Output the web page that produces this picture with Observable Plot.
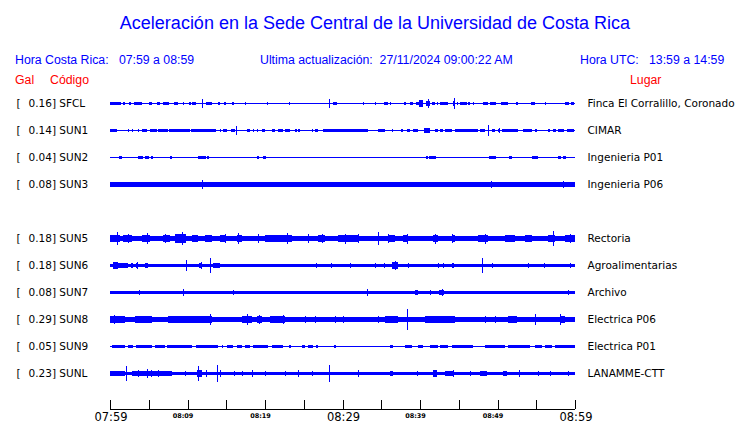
<!DOCTYPE html>
<html><head><meta charset="utf-8">
<script src="https://cdn.jsdelivr.net/npm/d3@7"></script>
<script src="https://cdn.jsdelivr.net/npm/@observablehq/plot@0.6"></script>
<style>
body{margin:0;background:#fff;}
#wrap{width:740px;height:423px;position:relative;overflow:hidden;background:#fff;}
#head{position:relative;width:740px;height:90px;font-family:"Liberation Sans",Arial,sans-serif;}
.t{position:absolute;white-space:pre;line-height:1;}
#traces svg,#axis svg{display:block;}
</style></head><body>
<div id="wrap">
<div id="head">
<div class="t" style="left:5px;width:740px;text-align:center;top:14px;font-size:18px;color:#0000ff">Aceleración en la Sede Central de la Universidad de Costa Rica</div>
<div class="t" style="left:15px;top:54px;font-size:12.3px;color:#0000ff">Hora Costa Rica:   07:59 a 08:59</div>
<div class="t" style="left:260px;top:54px;font-size:12.3px;color:#0000ff">Ultima actualización:  27/11/2024 09:00:22 AM</div>
<div class="t" style="left:580px;top:54px;font-size:12.3px;color:#0000ff">Hora UTC:   13:59 a 14:59</div>
<div class="t" style="left:15px;top:74px;font-size:12.3px;color:#ff0000">Gal</div>
<div class="t" style="left:50px;top:74px;font-size:12.3px;color:#ff0000">Código</div>
<div class="t" style="left:630px;top:74px;font-size:12.3px;color:#ff0000">Lugar</div>
</div>
<div id="traces"></div>
<div id="axis"></div>
</div>
<script>
// ---- data ----
const slots = ["SFCL","SUN1","SUN2","SUN3","","SUN5","SUN6","SUN7","SUN8","SUN9","SUNL"];
const stations = ["SFCL","SUN1","SUN2","SUN3","SUN5","SUN6","SUN7","SUN8","SUN9","SUNL"];
const peaks = ["0.16","0.14","0.04","0.08","0.18","0.18","0.08","0.29","0.05","0.23"];
const places = ["Finca El Corralillo, Coronado","CIMAR","Ingenieria P01","Ingenieria P06","Rectoria","Agroalimentarias","Archivo","Electrica P06","Electrica P01","LANAMME-CTT"];
const span = [0, 60]; // minutes after 07:59
const baseAmp = [0.0135,0.0135,0.0135,0.055,0.075,0.045,0.04,0.065,0.0135,0.045];

// bursts: [start min, end min, amplitude Gal]; spikes: [min, amplitude Gal]
const burstsSFCL = [[0,1.42,.045],[1.72,1.94,.03],[2.45,2.71,.04],[3.14,4.17,.045],[5.08,5.38,.04],[6.02,6.45,.045],[6.8,7.66,.045],[8.3,8.73,.04],[9.38,9.59,.03],[10.19,10.45,.03],[10.62,11.05,.04],[12.39,13.2,.05],[13.98,14.19,.03],[14.67,14.92,.03],[15.7,16.04,.04],[28.2,28.4,.05],[28.82,29.25,.04],[35.4,35.91,.04],[37.98,38.19,.03],[38.71,39.14,.04],[39.44,40.43,.05],[39.9,40.4,.09],[40.73,41.29,.08],[41.51,41.94,.04],[42.15,42.37,.03],[42.58,43.66,.045],[44.2,44.5,.08],[44.73,44.95,.03],[45.16,46.02,.045],[46.24,46.45,.03],[46.8,47.01,.03],[48.17,48.82,.045],[49.03,49.76,.04],[50.45,51.4,.045],[52.34,52.6,.03],[54.32,54.84,.04],[58.71,59.23,.04],[59.48,59.91,.04]];
const spikesSFCL = [[11.83,.11],[17.46,.03],[20.3,.03],[23.05,.03],[28.26,.12],[32.69,.03],[34.19,.03],[36.13,.03],[41.0,.11],[44.34,.16],[56.13,.03]];

const burstsSUN1 = [[0,0.86,.045],[4.09,4.73,.04],[5.16,6.02,.04],[6.24,7.44,.045],[7.61,10.32,.045],[10.45,13.63,.04],[14.62,15.05,.03],[15.61,16.13,.04],[17.63,18.06,.03],[18.92,19.14,.03],[19.57,20,.03],[20.86,21.29,.03],[21.72,22.37,.04],[22.58,23.23,.04],[23.87,24.09,.03],[24.3,24.52,.03],[26.02,26.24,.03],[26.45,26.88,.03],[27.53,29.46,.04],[29.46,30.32,.03],[30.32,33.33,.035],[34.62,35.48,.03],[36.34,36.56,.03],[37.55,37.76,.03],[38.28,38.71,.04],[39.14,39.78,.03],[40.56,41.29,.06],[41.94,42.37,.03],[42.58,43.01,.03],[43.23,44.09,.04],[44.52,47.53,.04],[47.74,48.39,.04],[49.25,49.68,.04],[50.02,50.32,.04],[50.54,52.69,.045],[53.33,54.41,.04],[54.84,55.05,.03],[56.47,56.77,.03],[57.2,57.51,.03],[57.85,58.62,.04],[58.92,59.91,.04]];
const spikesSUN1 = [[2.28,.03],[2.8,.03],[3.66,.03],[14.19,.03],[16.3,.11],[18.49,.03],[40.9,.07],[48.82,.15],[50.2,.06]];

const burstsSUN2 = [[1.16,1.5,.03],[1.85,2.15,.025],[3.66,4.3,.035],[4.52,5.03,.035],[5.29,5.59,.03],[5.72,5.89,.025],[7.74,7.96,.03],[8.17,8.3,.025],[9.33,9.51,.025],[9.68,9.76,.02],[10.32,10.54,.025],[10.67,10.75,.02],[11.4,12.34,.035],[12.47,12.77,.03],[13.12,13.33,.025],[18.92,19.23,.03],[19.78,20.09,.03],[40.73,40.99,.03],[41.16,42.02,.035],[44.52,44.73,.025],[45.03,45.29,.025],[48.9,49.76,.035],[50.97,51.18,.025],[51.48,51.83,.03],[54.49,55.27,.035],[57.85,58.19,.03],[58.49,58.8,.03]];
const spikesSUN2 = [[0.43,.02],[6.75,.02],[16.65,.02],[24.3,.025],[25.08,.02],[52.17,.02],[59.14,.02]];

const burstsSUN3 = [[1.1,1.5,.07],[48.9,49.9,.075],[54.8,55.2,.07],[57.4,59,.07]];
const spikesSUN3 = [[1.29,.08],[1.85,.06],[3.31,.06],[4.73,.065],[5.38,.07],[7.53,.065],[7.83,.06],[11.83,.11],[16.34,.06],[19.01,.065],[41.29,.07],[42.88,.06],[48.52,.07],[49.12,.1],[51.4,.065],[52.69,.06],[53.76,.06],[55.01,.075],[55.7,.06],[58.49,.1]];

const burstsSUN5 = [[0,1.29,.1],[1.72,2.8,.095],[4.09,5.16,.1],[6.88,7.74,.095],[8.39,9.68,.11],[10.54,11.4,.095],[12.26,13.12,.095],[14.19,14.84,.09],[16.34,16.99,.1],[20,23.44,.1],[26.88,27.74,.095],[29.46,32.04,.1],[35.91,36.77,.1],[37.85,38.49,.095],[41.72,42.37,.095],[44.09,44.52,.09],[47.53,48.82,.1],[50.97,52.26,.095],[53.55,54.41,.095],[56.56,57.42,.1],[58.71,60,.105]];
const spikesSUN5 = [[0.86,.18],[2.37,.12],[4.73,.145],[7.1,.11],[9.25,.18],[9.68,.13],[14.84,.12],[16.56,.145],[19.14,.12],[22.8,.16],[25.59,.11],[27.31,.11],[30.32,.135],[32.04,.13],[34.62,.18],[35.91,.11],[38.28,.135],[41.94,.135],[44.09,.12],[48.39,.135],[57.2,.2],[59.35,.11]];

const burstsSUN6 = [[0.43,1.08,.085],[1.08,2.37,.055],[2.71,3.01,.06],[3.31,3.66,.08],[4.52,4.86,.06],[11.48,11.91,.08],[13.33,14.19,.055],[36.34,37.2,.1],[44.09,44.43,.07]];
const spikesSUN6 = [[0.8,.1],[3.5,.09],[9.81,.15],[11.7,.1],[12.9,.19],[26.54,.07],[28.47,.06],[30.97,.055],[34.19,.055],[35.4,.055],[36.77,.13],[38.41,.055],[42.37,.055],[43.01,.055],[48.04,.19],[49.25,.055],[53.98,.055],[56.04,.055],[59.35,.06]];

const burstsSUN7 = [[11.8,12.3,.05],[14.5,14.9,.05],[20.8,21.1,.05],[32.5,34,.05],[39.4,39.8,.06],[42.5,43.1,.06],[53.3,53.9,.05]];
const spikesSUN7 = [[3.78,.06],[9.38,.09],[15.91,.055],[22.92,.05],[25.59,.05],[33.2,.09],[39.57,.075],[41.29,.055],[42.8,.09],[44.95,.05],[51.83,.05],[55.27,.05],[56.56,.05],[57.63,.05],[59.14,.07]];

const burstsSUN8 = [[0,1.94,.09],[3.23,5.38,.085],[7.53,13.12,.085],[16.99,18.28,.1],[18.92,19.57,.1],[20.65,22.58,.09],[35.48,37.2,.085],[40.65,44.52,.085],[51.4,52.47,.09],[58.06,58.71,.1]];
const spikesSUN8 = [[0.5,.11],[1.5,.1],[4.5,.1],[9.5,.1],[12.9,.15],[17.63,.15],[19.2,.12],[22.28,.13],[25.16,.1],[26.45,.09],[29.03,.09],[30.11,.09],[34.62,.09],[38.28,.28],[42,.1],[48.39,.09],[49.68,.09],[54.84,.14],[58.06,.14]];

const burstsSUN9 = [[0.3,1.94,.035],[2.37,3.01,.03],[3.31,5.38,.035],[5.81,7.1,.035],[7.31,10.54,.035],[11.05,13.98,.035],[14.41,14.62,.03],[15.05,15.91,.035],[16.34,16.99,.03],[17.42,18.06,.03],[18.49,20.43,.035],[20.86,22.37,.035],[23.15,23.3,.03],[24.73,25.16,.03],[25.59,26.24,.03],[26.54,26.88,.03],[28.95,29.1,.03],[36.13,36.56,.03],[38.06,38.92,.035],[39.78,40.43,.035],[41.29,42.37,.035],[42.58,43.66,.035],[44.09,46.88,.035],[48.39,50.97,.035],[51.4,54.19,.035],[54.84,55.7,.035],[56.13,56.99,.035],[57.42,60,.035]];
const spikesSUN9 = [[34.6,.02]];

const burstsSUNL = [[0,1.94,.055],[2.8,7.96,.075],[11.18,11.83,.1],[36.13,36.56,.08],[41.72,42.15,.09],[43.23,44.3,.08],[47.74,48.6,.07],[50.75,51.18,.07]];
const spikesSUNL = [[2.06,.2],[3.6,.1],[4.73,.11],[5.3,.1],[6.2,.09],[9.68,.07],[11.4,.2],[12.39,.1],[13.85,.23],[14.19,.09],[16.04,.08],[16.99,.07],[18.37,.1],[20,.06],[22.58,.06],[24.3,.1],[26.02,.06],[28.3,.23],[32.04,.09],[39.57,.055],[42,.1],[44.3,.1],[46.45,.06],[52.77,.1],[55.27,.06],[56.77,.06],[59.14,.07]];

const tickMinutes = [0,5,10,15,20,25,30,35,40,45,50,55,60];
const majorLabels = [[0,"07:59"],[30,"08:29"],[60,"08:59"]];
const minorLabels = [[10,"08:09"],[20,"08:19"],[40,"08:39"],[50,"08:49"]];

// ---- tables ----
const burstLists = [burstsSFCL,burstsSUN1,burstsSUN2,burstsSUN3,burstsSUN5,burstsSUN6,burstsSUN7,burstsSUN8,burstsSUN9,burstsSUNL];
const spikeLists = [spikesSFCL,spikesSUN1,spikesSUN2,spikesSUN3,spikesSUN5,spikesSUN6,spikesSUN7,spikesSUN8,spikesSUN9,spikesSUNL];
const baseRows = stations.map((code,i)=>({code, t0:span[0], t1:span[1], a:baseAmp[i]}));
const burstRows = stations.flatMap((code,i)=>burstLists[i].map(([t0,t1,a])=>({code,t0,t1,a})));
const spikeRows = stations.flatMap((code,i)=>spikeLists[i].map(([t,a])=>({code,t,a})));
const labelRows = stations.map((code,i)=>({code, peak:peaks[i], place:places[i]}));

const blue = "#0000ff";
const lblFont = "DejaVu Sans";

const traces = Plot.plot({
  width:740, height:297,
  marginLeft:110, marginRight:165, marginTop:0, marginBottom:0,
  x:{domain:span, axis:null},
  y:{domain:[-0.3645,0.3645], axis:null},
  fy:{domain:slots, axis:null, padding:0},
  style:{background:"white"},
  marks:[
    Plot.rect(baseRows,{fy:"code", x1:"t0", x2:"t1", y1:d=>-d.a, y2:d=>d.a, fill:blue, shapeRendering:"crispEdges"}),
    Plot.rect(burstRows,{fy:"code", x1:"t0", x2:"t1", y1:d=>-d.a, y2:d=>d.a, fill:blue, shapeRendering:"crispEdges"}),
    Plot.ruleX(spikeRows,{fy:"code", x:"t", y1:d=>-d.a, y2:d=>d.a, stroke:blue, strokeWidth:1, shapeRendering:"crispEdges"}),
    Plot.text(labelRows,{fy:"code", frameAnchor:"left", text:()=>"[", dx:-94, textAnchor:"start", fontSize:10.5, fontFamily:lblFont, fill:"black"}),
    Plot.text(labelRows,{fy:"code", frameAnchor:"left", text:d=>`${d.peak}] ${d.code}`, dx:-82, textAnchor:"start", fontSize:10.5, fontFamily:lblFont, fill:"black"}),
    Plot.text(labelRows,{fy:"code", frameAnchor:"right", text:"place", dx:12, textAnchor:"start", fontSize:10.5, fontFamily:lblFont, fill:"black"})
  ]
});
document.getElementById("traces").appendChild(traces);

const axis = Plot.plot({
  width:740, height:36,
  marginLeft:110, marginRight:165, marginTop:13, marginBottom:14,
  x:{domain:span, axis:null},
  y:{domain:[0,1], axis:null},
  style:{background:"white", overflow:"visible"},
  marks:[
    Plot.ruleY([0],{stroke:"black", shapeRendering:"crispEdges"}),
    Plot.ruleX(tickMinutes,{stroke:"black", shapeRendering:"crispEdges"}),
    Plot.text(majorLabels,{x:d=>d[0], text:d=>d[1], frameAnchor:"bottom", lineAnchor:"top", dy:3, dx:0.5, fontSize:11.5, letterSpacing:"1.1px", fontFamily:lblFont, fill:"black"}),
    Plot.text(minorLabels,{x:d=>d[0], text:d=>d[1], frameAnchor:"bottom", lineAnchor:"top", dy:4, dx:-5, fontSize:6.5, fontWeight:"bold", fontFamily:lblFont, fill:"black"})
  ]
});
document.getElementById("axis").appendChild(axis);
</script>
</body></html>
